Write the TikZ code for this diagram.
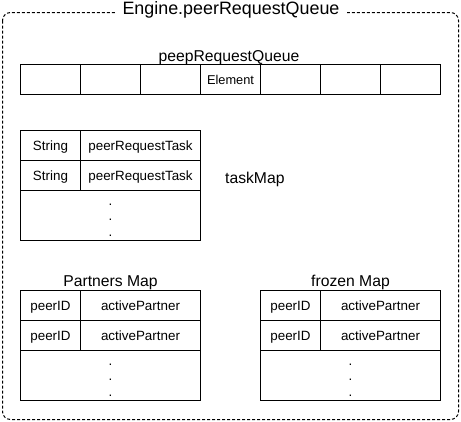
\documentclass[tikz,border=0pt]{standalone}
\usepackage{fontspec}
\setmainfont{Liberation Sans}
\usepackage{tikz}
\usetikzlibrary{positioning}

\begin{document}
\begin{tikzpicture}[
x=1pt,
y=-1pt,
cell/.style={
rectangle,
draw=black,
line width=1pt,
outer sep=0pt,
inner sep=0pt,
minimum height=30pt,
font=\fontsize{13.4}{16}\selectfont,
text height=9.6pt,
text depth=0pt
},
keycell/.style={
cell,
minimum width=60pt
},
valcell/.style={
cell,
minimum width=120pt
},
restcell/.style={
cell,
minimum width=180pt,
minimum height=50pt
},
dot/.style={
inner sep=0pt,
anchor=base,
font=\fontsize{13.4}{16}\selectfont
},
mapname/.style={
inner sep=0pt,
anchor=base,
font=\fontsize{15.7}{18}\selectfont
},
outerbox/.style={
draw=black,
line width=1pt,
dash pattern=on 3pt off 2pt,
rounded corners=8pt
}]

\useasboundingbox (0,0) rectangle (461,421);

\draw[outerbox] (2.5,12.5) rectangle (458.5,419.5);
\node [fill=white, inner xsep=8pt, inner ysep=3pt, anchor=base, font=\fontsize{17.9}{20}\selectfont] (title) at (231,14) {Engine.peerRequestQueue};

% queue
\node [mapname] (qname) at (229,61) {peepRequestQueue};
\foreach \i in {1,...,7}
  \node [keycell] (q\i) at (-9.5+60*\i,79.5) {};
\node [inner sep=0pt, font=\fontsize{12.8}{15}\selectfont, text height=9.1pt, text depth=0pt] (elem) at (q4) {Element};

% task map
\node [keycell] (tk1) at (50.5,145.7) {String};
\node [valcell, right=0pt of tk1] (tv1) {peerRequestTask};
\node [keycell, below=0pt of tk1] (tk2) {String};
\node [valcell, right=0pt of tk2] (tv2) {peerRequestTask};
\node [restcell, anchor=north west] (trest) at (tk2.south west) {};
\foreach \k/\dy in {1/14,2/29,3/45}
  \node [dot] (tdot\k) at (110.5,{191.4+\dy}) {.};
\node [mapname, anchor=base west] (tname) at (225,183.3) {taskMap};

% partners map
\node [mapname] (pname) at (110.5,286.7) {Partners Map};
\node [keycell] (pk1) at (50.5,305.5) {peerID};
\node [valcell, right=0pt of pk1] (pv1) {activePartner};
\node [keycell, below=0pt of pk1] (pk2) {peerID};
\node [valcell, right=0pt of pk2] (pv2) {activePartner};
\node [restcell, anchor=north west] (prest) at (pk2.south west) {};
\foreach \k/\dy in {1/14,2/29,3/45}
  \node [dot] (pdot\k) at (110.5,{351.2+\dy}) {.};

% frozen map
\node [mapname] (fname) at (350.5,286.7) {frozen Map};
\node [keycell] (fk1) at (290.5,305.5) {peerID};
\node [valcell, right=0pt of fk1] (fv1) {activePartner};
\node [keycell, below=0pt of fk1] (fk2) {peerID};
\node [valcell, right=0pt of fk2] (fv2) {activePartner};
\node [restcell, anchor=north west] (frest) at (fk2.south west) {};
\foreach \k/\dy in {1/14,2/29,3/45}
  \node [dot] (fdot\k) at (350.5,{351.2+\dy}) {.};

\end{tikzpicture}
\end{document}
